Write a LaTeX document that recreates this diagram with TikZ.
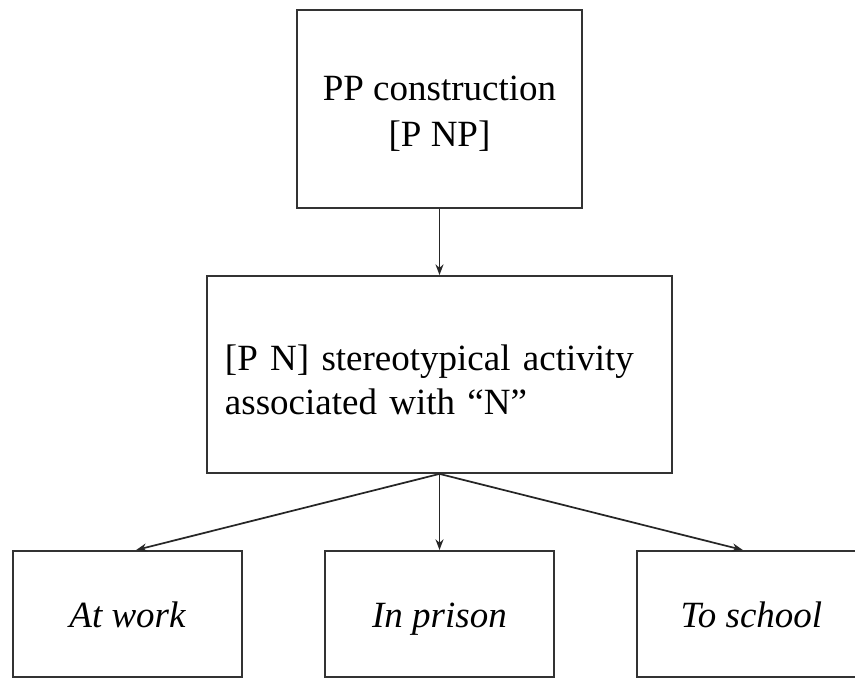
\documentclass[tikz,border=0pt]{standalone}
\usepackage{fontspec}
\setmainfont{Liberation Serif}
\usetikzlibrary{shapes.geometric, arrows, arrows.meta}
\tikzstyle{topbox} = [rectangle, minimum width=213.75pt, minimum height=148.5pt, text height=60pt, align=center, draw=black!80, line width=1.4pt, font=\fontsize{27.75pt}{34.5pt}\selectfont]
\tikzstyle{midbox} = [rectangle, minimum width=348.75pt, minimum height=147.75pt, text height=27pt, text width=321.75pt, inner sep=0pt, align=left, draw=black!80, line width=1.4pt, font=\fontsize{27.75pt}{33pt}\selectfont]
\tikzstyle{leafbox} = [rectangle, minimum width=171.75pt, minimum height=94.5pt, text height=24pt, text depth=3pt, text centered, draw=black!80, line width=1.4pt, font=\fontsize{27.75pt}{33.75pt}\selectfont\itshape]
\tikzstyle{arrow} = [line width=1.3pt, draw=black!85, -{Stealth[length=8pt, width=6pt]}]

\begin{document}
\begin{tikzpicture}[node distance=199.1pt]
            \clip (-329.625pt,81.75pt) rectangle (311.625pt,-429pt);
            \node (pp) [topbox] {PP construction\\\relax [P NP]};
            \node (activity) [midbox, below of=pp] {[P N] stereotypical activity\\associated with “N”};
            \node (prison) [leafbox, below of=activity, node distance=179.6pt] {In prison};
            \node (work) [leafbox, left of=prison, node distance=234pt] {At work};
            \node (school) [leafbox, right of=prison, node distance=234pt] {To school};

            \draw [arrow] (pp) -- (activity);
            \draw [arrow] (activity.south) -- ([xshift=6.5pt]work.north);
            \draw [arrow] (activity.south) -- (prison);
            \draw [arrow] (activity.south) -- ([xshift=-6.5pt]school.north);
        \end{tikzpicture}
\end{document}
